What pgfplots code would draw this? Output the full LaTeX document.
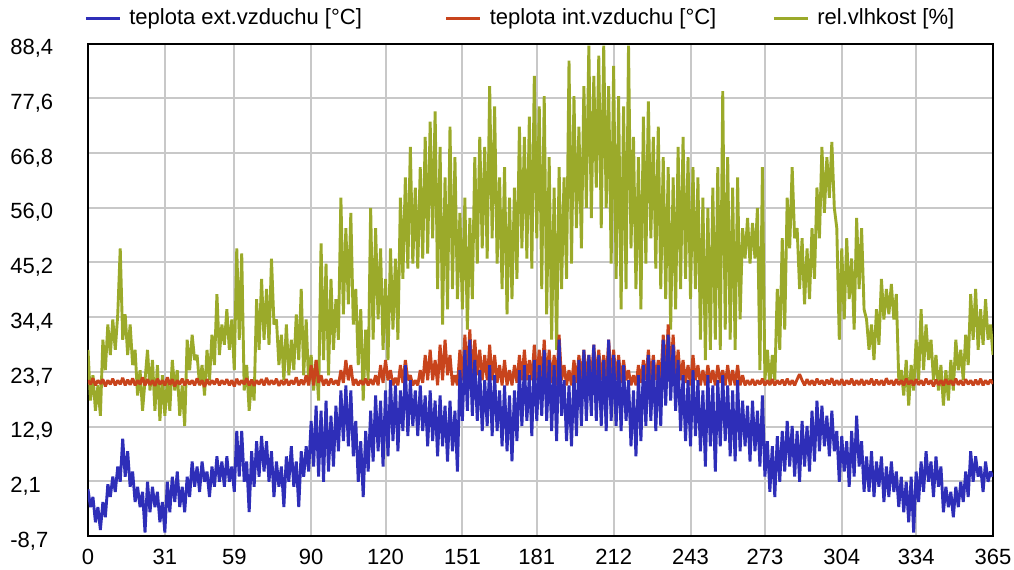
\documentclass[border=0pt]{standalone}
\usepackage{fontspec}
\setmainfont{Liberation Sans}
\usepackage{pgfplots}
\pgfplotsset{compat=1.18}
\definecolor{cblue}{RGB}{46,46,184}
\definecolor{cred}{RGB}{200,68,28}
\definecolor{cgreen}{RGB}{155,170,42}
\definecolor{gridgray}{RGB}{200,200,200}
\begin{document}
\begin{tikzpicture}
\useasboundingbox (-44pt,-16.5pt) rectangle (463pt,268pt);
\begin{axis}[
  at={(0,0)}, anchor=south west,
  scale only axis, width=452.5pt, height=246.25pt,
  xmin=0, xmax=365, ymin=-8.7, ymax=88.4,
  xtick={0,31,59,90,120,151,181,212,243,273,304,334,365},
  ytick={-8.7,2.0889,12.8778,23.6667,34.4556,45.2444,56.0333,66.8222,77.6111,88.4},
  yticklabels={{-8,7},{2,1},{12,9},{23,7},{34,4},{45,2},{56,0},{66,8},{77,6},{88,4}},
  /pgf/number format/assume math mode=true,
  scaled ticks=false,
  grid=major, major grid style={line width=1pt, color=gridgray},
  axis line style={line width=1pt, black},
  major tick length=0pt,
  tick label style={font=\fontsize{11}{13}\selectfont},
  xticklabel style={anchor=north, inner sep=0pt, yshift=-6.5pt},
  yticklabel style={anchor=west, inner sep=0pt, xshift=-39pt, yshift=-2.5pt},
  legend columns=3,
  legend style={draw=none, fill=none, inner sep=0pt, at={(rel axis cs:0,1)}, anchor=west,
    xshift=-2pt, yshift=12.5pt, font=\fontsize{11}{13}\selectfont,
    /tikz/every even column/.style={column sep=26pt}},
  legend image code/.code={\draw[#1, line width=1.5pt] (0pt,0pt) -- (17pt,0pt); \path (19pt,0pt);},
  every axis plot/.append style={line width=1.45pt, line join=bevel, mark=none},
]
\addlegendimage{cblue}
\addlegendentry{teplota ext.vzduchu [°C]\hspace{13.5pt}\mbox{}}
\addlegendimage{cred}
\addlegendentry{teplota int.vzduchu [°C]}
\addlegendimage{cgreen}
\addlegendentry{rel.vlhkost [\%]}
% relative humidity
\addplot[cgreen, forget plot] coordinates {(0,28)(1,18)(2,23)(3,16)(4,21)(5,15)(6,30)(7,24)(8,33)(9,27)(10,34)(11,28)(12,35)(13,48)(14,30)(15,35)(16,27)(17,33)(18,25)(19,28)(20,19)(21,24)(22,16)(23,22)(24,28)(25,20)(26,26)(27,16)(28,25)(29,14)(30,23)(31,15)(32,22)(33,16)(34,26)(35,20)(36,24)(37,15)(38,21)(39,13)(40,30)(41,24)(42,31)(43,26)(44,27)(45,21)(46,25)(47,19)(48,28)(49,22)(50,31)(51,25)(52,39)(53,27)(54,33)(55,29)(56,36)(57,28)(58,34)(59,24)(60,48)(61,30)(62,47)(63,20)(64,25)(65,16)(66,22)(67,18)(68,38)(69,28)(70,42)(71,30)(72,40)(73,29)(74,46)(75,33)(76,34)(77,25)(78,31)(79,22)(80,33)(81,23)(82,30)(83,24)(84,35)(85,26)(86,40)(87,23)(88,34)(89,21)(90,27)(91,20)(92,26)(93,18)(94,49)(95,26)(96,45)(97,23)(98,42)(99,28)(100,38)(101,30)(102,58)(103,35)(104,52)(105,37)(106,55)(107,33)(108,40)(109,25)(110,36)(111,18)(112,32)(113,22)(114,56)(115,30)(116,52)(117,34)(118,48)(119,28)(120,42)(121,26)(122,48)(123,32)(124,46)(125,30)(126,58)(127,42)(128,62)(129,44)(130,68)(131,45)(132,60)(133,44)(134,64)(135,46)(136,70)(137,47)(138,73)(139,50)(140,75)(141,40)(142,68)(143,33)(144,62)(145,36)(146,72)(147,40)(148,66)(149,38)(150,55)(151,36)(152,58)(153,32)(154,54)(155,38)(156,66)(157,45)(158,70)(159,48)(160,68)(161,46)(162,80)(163,50)(164,76)(165,45)(166,62)(167,40)(168,64)(169,35)(170,58)(171,38)(172,60)(173,42)(174,72)(175,48)(176,70)(177,46)(178,74)(179,44)(180,82)(181,50)(182,76)(183,40)(184,78)(185,35)(186,66)(187,30)(188,60)(189,28)(190,64)(191,40)(192,62)(193,42)(194,85)(195,45)(196,78)(197,52)(198,72)(199,48)(200,80)(201,56)(202,88)(203,54)(204,82)(205,60)(206,86)(207,52)(208,88)(209,56)(210,80)(211,45)(212,84)(213,42)(214,78)(215,36)(216,76)(217,40)(218,88)(219,48)(220,70)(221,40)(222,66)(223,36)(224,74)(225,45)(226,77)(227,50)(228,70)(229,44)(230,72)(231,40)(232,66)(233,38)(234,64)(235,32)(236,62)(237,36)(238,68)(239,40)(240,70)(241,42)(242,66)(243,38)(244,64)(245,40)(246,62)(247,30)(248,58)(249,26)(250,56)(251,28)(252,60)(253,30)(254,64)(255,28)(256,79)(257,32)(258,66)(259,30)(260,60)(261,28)(262,62)(263,34)(264,52)(265,46)(266,54)(267,45)(268,53)(269,46)(270,56)(271,24)(272,64)(273,22)(274,28)(275,21)(276,27)(277,22)(278,40)(279,28)(280,50)(281,32)(282,58)(283,48)(284,64)(285,50)(286,52)(287,40)(288,50)(289,37)(290,48)(291,38)(292,52)(293,42)(294,60)(295,50)(296,68)(297,55)(298,66)(299,58)(300,69)(301,56)(302,52)(303,30)(304,48)(305,34)(306,50)(307,38)(308,46)(309,32)(310,54)(311,40)(312,52)(313,36)(314,34)(315,28)(316,33)(317,26)(318,36)(319,29)(320,42)(321,34)(322,40)(323,35)(324,41)(325,34)(326,39)(327,22)(328,24)(329,19)(330,26)(331,17)(332,25)(333,20)(334,30)(335,22)(336,36)(337,24)(338,33)(339,26)(340,30)(341,22)(342,27)(343,20)(344,25)(345,17)(346,24)(347,18)(348,26)(349,20)(350,30)(351,24)(352,28)(353,22)(354,31)(355,25)(356,39)(357,30)(358,40)(359,28)(360,36)(361,29)(362,38)(363,30)(364,33)(365,27)};
% interior temperature
\addplot[cred, forget plot] coordinates {(0,22)(1,21.2)(2,22.4)(3,21)(4,22)(5,21.3)(6,22.2)(7,20.8)(8,22)(9,21.2)(10,22.3)(11,21)(12,22)(13,21.2)(14,22.5)(15,21)(16,22.1)(17,21.1)(18,22.4)(19,21)(20,22)(21,21.2)(22,22.6)(23,21)(24,22.2)(25,21.1)(26,22)(27,20.9)(28,22.3)(29,21.2)(30,22)(31,21)(32,22.6)(33,21.1)(34,22.2)(35,20.8)(36,22)(37,21.2)(38,22.3)(39,21)(40,22.1)(41,21.2)(42,22)(43,21)(44,22.4)(45,21.1)(46,22)(47,20.7)(48,22.2)(49,21.1)(50,22)(51,21.2)(52,22.3)(53,21)(54,22)(55,21.2)(56,22.2)(57,21)(58,22)(59,20.8)(60,22.3)(61,21.1)(62,22)(63,21.2)(64,22.4)(65,21)(66,22.1)(67,20.9)(68,22)(69,21.2)(70,22.2)(71,21)(72,22.5)(73,21.1)(74,22)(75,21.2)(76,22.3)(77,20.9)(78,22)(79,21.1)(80,22.2)(81,21)(82,22)(83,21.2)(84,22.6)(85,21)(86,22.1)(87,21.1)(88,23)(89,21)(90,25)(91,21)(92,26)(93,21.5)(94,23)(95,21)(96,22.2)(97,21)(98,22.3)(99,21.2)(100,22)(101,21)(102,24)(103,21.5)(104,26)(105,22)(106,25)(107,21)(108,22.2)(109,21)(110,22)(111,21.1)(112,22.3)(113,21)(114,22.2)(115,21.1)(116,23)(117,21)(118,25)(119,21.5)(120,26)(121,22)(122,24)(123,21)(124,22.5)(125,21)(126,25)(127,21.5)(128,26)(129,22)(130,23)(131,21)(132,22)(133,21)(134,24)(135,21.5)(136,27)(137,22)(138,28)(139,22)(140,26)(141,21)(142,29)(143,22)(144,30)(145,23)(146,27)(147,21)(148,23)(149,21)(150,28)(151,22)(152,31)(153,23)(154,32)(155,22)(156,30)(157,23)(158,28)(159,22)(160,27)(161,22)(162,29)(163,22)(164,27)(165,21.5)(166,25)(167,21)(168,26)(169,21)(170,24)(171,21)(172,25)(173,21.5)(174,27)(175,22)(176,28)(177,22)(178,26)(179,22)(180,29)(181,22)(182,28)(183,22)(184,30)(185,22)(186,28)(187,21.5)(188,27)(189,21)(190,31)(191,22)(192,25)(193,21)(194,24)(195,21)(196,26)(197,21.5)(198,27)(199,22)(200,28)(201,22)(202,27)(203,22)(204,29)(205,22)(206,28)(207,22)(208,27)(209,22)(210,30)(211,22)(212,28)(213,22)(214,27)(215,21.5)(216,26)(217,22)(218,24)(219,21)(220,23)(221,21)(222,25)(223,21.5)(224,26)(225,22)(226,28)(227,22)(228,27)(229,22)(230,26)(231,22)(232,31)(233,23)(234,33)(235,23)(236,31)(237,22)(238,28)(239,22)(240,26)(241,21.5)(242,25)(243,21)(244,27)(245,22)(246,25)(247,21)(248,24)(249,21)(250,25)(251,21.5)(252,24)(253,21)(254,25)(255,21.5)(256,24)(257,21)(258,25)(259,21)(260,24)(261,21)(262,25)(263,21)(264,23)(265,21)(266,22)(267,21.1)(268,22.2)(269,21)(270,22)(271,21.2)(272,22.3)(273,21)(274,22)(275,21.1)(276,22.2)(277,21)(278,22)(279,21.2)(280,22.1)(281,21)(282,22.3)(283,21.1)(284,22)(285,21)(286,22.2)(287,23.2)(288,22)(289,21)(290,22.2)(291,21.1)(292,22)(293,21)(294,22.3)(295,21.2)(296,22)(297,21)(298,22.1)(299,21.2)(300,22.4)(301,21)(302,22)(303,21.1)(304,22.2)(305,21)(306,22)(307,21.2)(308,22.3)(309,21)(310,22)(311,21.1)(312,22.2)(313,21)(314,22)(315,21.2)(316,22.3)(317,21)(318,22.1)(319,21.1)(320,22)(321,21)(322,22.4)(323,21.2)(324,22)(325,21)(326,22.2)(327,21.1)(328,22)(329,21)(330,22.3)(331,21.2)(332,22)(333,21)(334,22.2)(335,21.1)(336,22)(337,21)(338,22.3)(339,21.2)(340,22)(341,20.8)(342,22.1)(343,21.1)(344,22)(345,21)(346,22.2)(347,21.2)(348,22)(349,21)(350,22.3)(351,21.1)(352,22)(353,21)(354,22.2)(355,21.2)(356,22)(357,21)(358,22.1)(359,21.1)(360,22.3)(361,21)(362,22)(363,21.2)(364,22.1)(365,21.3)};
% exterior temperature
\addplot[cblue, forget plot] coordinates {(0,0.5)(1,-3)(2,-1)(3,-6)(4,-3)(5,-7.5)(6,-2)(7,-5)(8,1.5)(9,-1)(10,3)(11,0)(12,5)(13,2)(14,10.5)(15,3)(16,8)(17,1)(18,4)(19,-2)(20,1)(21,-3)(22,0)(23,-8)(24,2)(25,-4)(26,1)(27,-3)(28,0)(29,-6)(30,-2)(31,-8)(32,2)(33,-4)(34,3)(35,-2)(36,4)(37,-3)(38,1)(39,-4)(40,3)(41,-1)(42,6)(43,1)(44,5)(45,0)(46,6)(47,2)(48,4)(49,-1)(50,5)(51,1)(52,7)(53,2)(54,6)(55,1)(56,7)(57,2)(58,5)(59,0)(60,12)(61,3)(62,12)(63,2)(64,6)(65,-4)(66,8)(67,1)(68,10)(69,3)(70,11)(71,4)(72,10)(73,2)(74,8)(75,-1)(76,6)(77,1)(78,5)(79,-3)(80,7)(81,2)(82,9)(83,1)(84,6)(85,-3)(86,8)(87,3)(88,9)(89,4)(90,14)(91,5)(92,17)(93,3)(94,16)(95,2)(96,18)(97,4)(98,15)(99,5)(100,17)(101,8)(102,20)(103,10)(104,21)(105,9)(106,20)(107,7)(108,14)(109,2)(110,10)(111,-1)(112,12)(113,4)(114,16)(115,6)(116,19)(117,8)(118,18)(119,5)(120,20)(121,7)(122,22)(123,10)(124,21)(125,8)(126,20)(127,12)(128,25)(129,11)(130,22)(131,13)(132,20)(133,11)(134,21)(135,12)(136,19)(137,9)(138,20)(139,10)(140,18)(141,7)(142,19)(143,9)(144,17)(145,6)(146,18)(147,8)(148,16)(149,4)(150,24)(151,14)(152,28)(153,16)(154,30)(155,15)(156,26)(157,14)(158,24)(159,12)(160,22)(161,13)(162,25)(163,11)(164,23)(165,12)(166,20)(167,9)(168,21)(169,8)(170,19)(171,6)(172,20)(173,10)(174,24)(175,13)(176,25)(177,14)(178,23)(179,11)(180,26)(181,14)(182,25)(183,15)(184,28)(185,14)(186,26)(187,12)(188,25)(189,10)(190,30)(191,15)(192,22)(193,10)(194,21)(195,9)(196,23)(197,11)(198,26)(199,13)(200,28)(201,14)(202,27)(203,15)(204,29)(205,14)(206,27)(207,13)(208,26)(209,12)(210,30)(211,14)(212,27)(213,13)(214,26)(215,12)(216,25)(217,14)(218,22)(219,9)(220,20)(221,7)(222,23)(223,10)(224,25)(225,13)(226,27)(227,14)(228,26)(229,12)(230,25)(231,13)(232,30)(233,17)(234,31)(235,18)(236,29)(237,16)(238,26)(239,12)(240,23)(241,10)(242,22)(243,9)(244,24)(245,11)(246,22)(247,8)(248,20)(249,5)(250,23)(251,9)(252,21)(253,4)(254,22)(255,9)(256,23)(257,10)(258,21)(259,7)(260,20)(261,6)(262,22)(263,8)(264,18)(265,9)(266,17)(267,6)(268,18)(269,8)(270,16)(271,5)(272,19)(273,3)(274,10)(275,0)(276,9)(277,-1)(278,11)(279,2)(280,12)(281,4)(282,14)(283,5)(284,13)(285,3)(286,12)(287,2)(288,14)(289,5)(290,13)(291,4)(292,16)(293,6)(294,18)(295,8)(296,17)(297,9)(298,15)(299,7)(300,16)(301,8)(302,12)(303,2)(304,11)(305,4)(306,10)(307,1)(308,12)(309,3)(310,15)(311,5)(312,10)(313,0)(314,7)(315,0)(316,8)(317,-1)(318,6)(319,1)(320,7)(321,-2)(322,5)(323,-1)(324,6)(325,0)(326,4)(327,-3)(328,3)(329,-4)(330,2)(331,-6)(332,3)(333,-8)(334,4)(335,-2)(336,6)(337,0)(338,8)(339,2)(340,6)(341,-1)(342,7)(343,1)(344,5)(345,-4)(346,1)(347,-3)(348,0)(349,-5)(350,1)(351,-3)(352,2)(353,-2)(354,4)(355,-1)(356,8)(357,2)(358,7)(359,3)(360,5)(361,0)(362,6)(363,2)(364,4)(365,3)};
\end{axis}
\end{tikzpicture}
\end{document}
